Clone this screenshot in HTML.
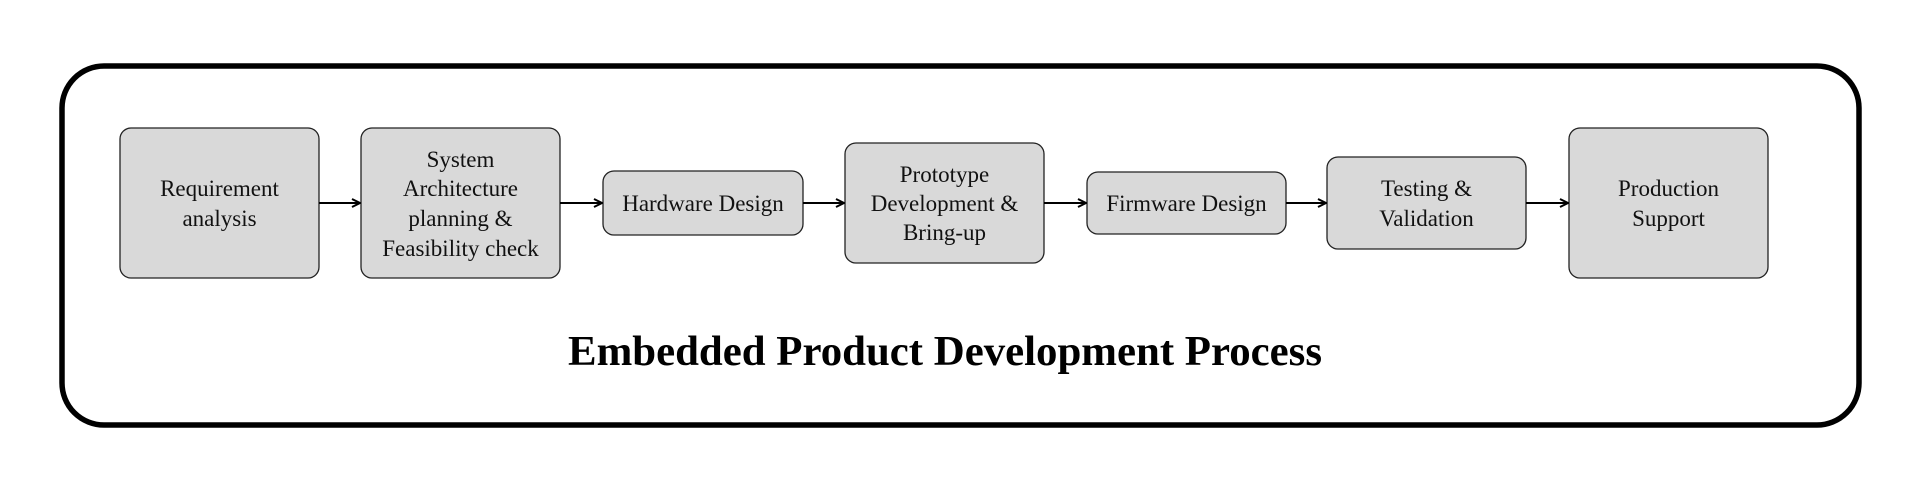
<!DOCTYPE html>
<html><head><style>html,body{margin:0;padding:0;background:#fff;}svg{display:block}</style></head>
<body>
<svg width="1920" height="491" viewBox="0 0 1920 491" xmlns="http://www.w3.org/2000/svg" font-family="'Liberation Serif', serif">
<defs><marker id="a" markerWidth="10" markerHeight="10" refX="9" refY="5" orient="auto" markerUnits="userSpaceOnUse"><path d="M1,1 L9,5 L1,9" fill="none" stroke="#000" stroke-width="2"/></marker></defs>
<rect x="62" y="66" width="1797" height="359" rx="42" fill="#fff" stroke="#000" stroke-width="5.5"/>
<g fill="#d9d9d9" stroke="#222" stroke-width="1.3">
<rect x="120" y="128" width="199" height="150" rx="11"/>
<rect x="361" y="128" width="199" height="150" rx="11"/>
<rect x="603" y="171" width="200" height="64" rx="11"/>
<rect x="845" y="143" width="199" height="120" rx="11"/>
<rect x="1087" y="172" width="199" height="62" rx="11"/>
<rect x="1327" y="157" width="199" height="92" rx="11"/>
<rect x="1569" y="128" width="199" height="150" rx="11"/>
</g>
<g stroke="#000" stroke-width="2" marker-end="url(#a)">
<line x1="319" y1="203" x2="360" y2="203"/>
<line x1="560" y1="203" x2="602" y2="203"/>
<line x1="803" y1="203" x2="844" y2="203"/>
<line x1="1044" y1="203" x2="1086" y2="203"/>
<line x1="1286" y1="203" x2="1326" y2="203"/>
<line x1="1526" y1="203" x2="1568" y2="203"/>
</g>
<g font-size="23" text-anchor="middle" fill="#111">
<text x="219.5" y="196">Requirement</text><text x="219.5" y="226">analysis</text>
<text x="460.5" y="167">System</text><text x="460.5" y="196">Architecture</text><text x="460.5" y="226">planning &amp;</text><text x="460.5" y="256">Feasibility check</text>
<text x="703" y="211">Hardware Design</text>
<text x="944.5" y="182">Prototype</text><text x="944.5" y="211">Development &amp;</text><text x="944.5" y="240">Bring-up</text>
<text x="1186.5" y="211">Firmware Design</text>
<text x="1426.5" y="196">Testing &amp;</text><text x="1426.5" y="226">Validation</text>
<text x="1668.5" y="196">Production</text><text x="1668.5" y="226">Support</text>
</g>
<text x="945" y="365" font-size="42" font-weight="bold" text-anchor="middle" textLength="754" lengthAdjust="spacingAndGlyphs" fill="#000">Embedded Product Development Process</text>
</svg>
</body></html>
